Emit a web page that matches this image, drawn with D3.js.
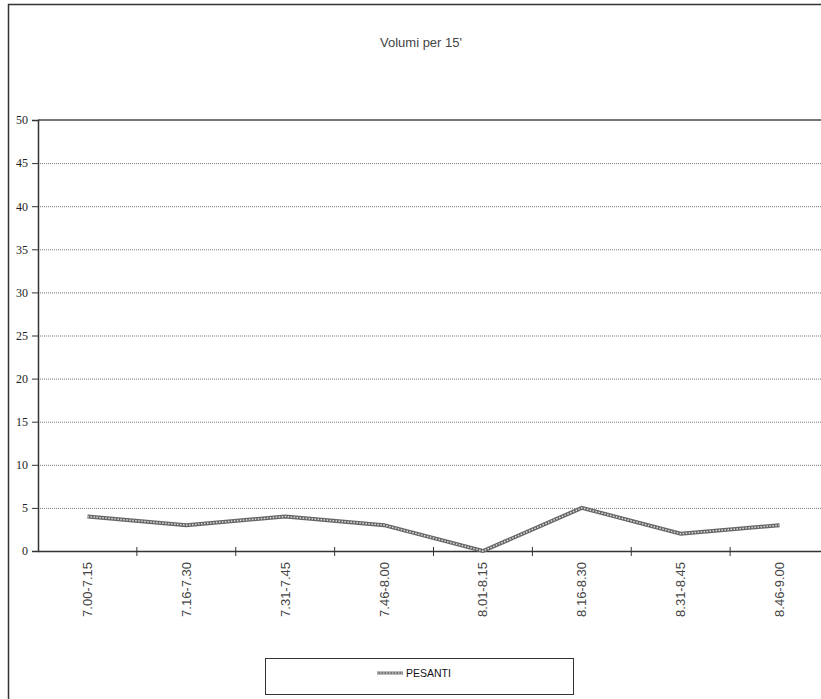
<!DOCTYPE html>
<html>
<head>
<meta charset="utf-8">
<script src="https://cdn.jsdelivr.net/npm/d3@7/dist/d3.min.js"></script>
<style>
  body { margin: 0; background: #fff; }
  svg { display: block; }
</style>
</head>
<body>
<svg id="chart" width="821" height="699"></svg>
<script>
var categories = ["7.00-7.15", "7.16-7.30", "7.31-7.45", "7.46-8.00", "8.01-8.15", "8.16-8.30", "8.31-8.45", "8.46-9.00"];
var pesanti = [4, 3, 4, 3, 0, 5, 2, 3];
var yTicks = [0, 5, 10, 15, 20, 25, 30, 35, 40, 45, 50];

var svg = d3.select("#chart");
var margin = { left: 38, top: 120, right: 829, bottom: 551 };

// outer frame
svg.append("rect")
  .attr("x", 8.5).attr("y", 4.5)
  .attr("width", 830).attr("height", 710)
  .attr("fill", "none")
  .attr("stroke", "#333")
  .attr("stroke-width", 1.5);

svg.append("text")
  .attr("x", 421).attr("y", 47)
  .attr("text-anchor", "middle")
  .attr("font-family", "Liberation Sans, Arial, sans-serif")
  .attr("font-size", 13)
  .attr("fill", "#444")
  .text("Volumi per 15'");

var x = d3.scaleBand().domain(categories).range([margin.left, margin.right]);
var y = d3.scaleLinear().domain([0, 50]).range([margin.bottom, margin.top]);

// gridlines
svg.append("g")
  .selectAll("line")
  .data(yTicks.filter(function(d) { return d > 0 && d < 50; }))
  .enter().append("line")
  .attr("x1", margin.left).attr("x2", margin.right)
  .attr("y1", function(d) { return y(d) + 0.5; })
  .attr("y2", function(d) { return y(d) + 0.5; })
  .attr("stroke", "#777")
  .attr("stroke-width", 1)
  .attr("stroke-dasharray", "1,1");

// top border of plot area
svg.append("line")
  .attr("x1", margin.left).attr("x2", margin.right)
  .attr("y1", y(50)).attr("y2", y(50))
  .attr("stroke", "#777")
  .attr("stroke-width", 2);

// y axis
var yAxis = svg.append("g")
  .attr("transform", "translate(" + margin.left + ",0)")
  .call(d3.axisLeft(y).tickValues(yTicks).tickSize(6).tickPadding(4));
yAxis.select(".domain").attr("stroke", "#333").attr("stroke-width", 1.5);
yAxis.selectAll(".tick line").attr("stroke", "#333");
yAxis.selectAll("text")
  .attr("font-family", "Liberation Serif, Times New Roman, serif")
  .attr("font-size", 12)
  .attr("fill", "#222");

// x axis
var xAxis = svg.append("g")
  .attr("transform", "translate(0," + margin.bottom + ")")
  .call(d3.axisBottom(x).tickSize(0).tickFormat(""));
xAxis.select(".domain").attr("stroke", "#333").attr("stroke-width", 1.5);

svg.append("g")
  .selectAll("line")
  .data(categories.slice(1))
  .enter().append("line")
  .attr("x1", function(d) { return x(d); })
  .attr("x2", function(d) { return x(d); })
  .attr("y1", margin.bottom - 4)
  .attr("y2", margin.bottom + 5)
  .attr("stroke", "#333");

svg.append("g")
  .selectAll("text")
  .data(categories)
  .enter().append("text")
  .attr("transform", function(d) {
    return "translate(" + (x(d) + x.bandwidth() / 2 + 4.5) + "," + (margin.bottom + 11) + ") rotate(-90)";
  })
  .attr("text-anchor", "end")
  .attr("font-family", "Liberation Sans, Arial, sans-serif")
  .attr("font-size", 13)
  .attr("fill", "#444")
  .text(function(d) { return d; });

// series line
var line = d3.line()
  .x(function(d, i) { return x(categories[i]) + x.bandwidth() / 2; })
  .y(function(d) { return y(d); });

svg.append("path")
  .datum(pesanti)
  .attr("d", line)
  .attr("fill", "none")
  .attr("stroke", "#666")
  .attr("stroke-width", 4);
svg.append("path")
  .datum(pesanti)
  .attr("d", line)
  .attr("fill", "none")
  .attr("stroke", "#ddd")
  .attr("stroke-width", 1.5)
  .attr("stroke-dasharray", "1.5,1.5");

// legend
var legend = svg.append("g").attr("transform", "translate(265,658)");
legend.append("rect")
  .attr("x", 0.5).attr("y", 0.5)
  .attr("width", 308).attr("height", 36)
  .attr("fill", "#fff")
  .attr("stroke", "#333")
  .attr("stroke-width", 1);
legend.append("line")
  .attr("x1", 112).attr("x2", 138).attr("y1", 15).attr("y2", 15)
  .attr("stroke", "#777").attr("stroke-width", 3);
legend.append("line")
  .attr("x1", 112).attr("x2", 138).attr("y1", 15).attr("y2", 15)
  .attr("stroke", "#ddd").attr("stroke-width", 1).attr("stroke-dasharray", "1.5,1.5");
legend.append("text")
  .attr("x", 141).attr("y", 19)
  .attr("font-family", "Liberation Sans, Arial, sans-serif")
  .attr("font-size", 10.5)
  .attr("fill", "#111")
  .text("PESANTI");
</script>
</body>
</html>
